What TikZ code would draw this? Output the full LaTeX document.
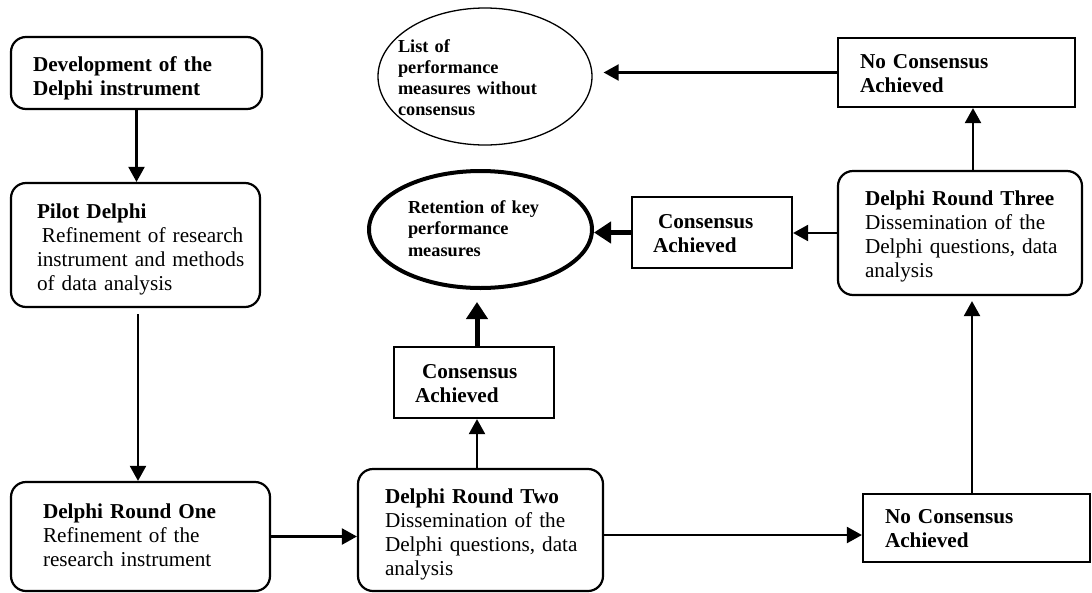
\documentclass[tikz,border=0pt]{standalone}
\usepackage{fontspec}
\setmainfont{Liberation Serif}
\usetikzlibrary{shapes.geometric,arrows.meta}

\begin{document}
\begin{tikzpicture}[x=1pt,y=-1pt,
  txt/.style={font=\fontsize{21.2}{24}\selectfont, align=left, inner ysep=0pt},
  rbox/.style={txt, draw, line width=2.2pt, rounded corners=15pt},
  sbox/.style={txt, draw, line width=2.2pt},
  oval/.style={ellipse, draw, inner sep=0pt, align=left, font=\fontsize{18.3}{21}\selectfont\bfseries},
  link/.style={line width=2.2pt, -{Triangle[length=15pt,width=16pt]}},
  boldlink/.style={line width=5pt, -{Triangle[length=17pt,width=21pt]}},
  textbox/.style 2 args={text height=#1, text depth=#2},
]
\fill[white] (0,0) rectangle (1092,592);
\useasboundingbox (0,0) rectangle (1092,592);

% process stages
\node[rbox, inner xsep=22pt, text width=207pt, minimum height=72pt, textbox={19.5pt}{23.5pt}] (dev) at (136.5,73)
  {\textbf{Development of the}\\\textbf{Delphi instrument}};
\node[rbox, inner xsep=26pt, text width=197pt, minimum height=124pt, textbox={18.5pt}{72.5pt}] (pilot) at (135.5,245)
  {\textbf{Pilot Delphi}\\\mbox{\hspace*{5pt}Refinement of research}\\\mbox{instrument and methods}\\of data analysis};
\node[rbox, inner xsep=32pt, text width=195pt, minimum height=109pt, textbox={12.75pt}{49.75pt}] (r1) at (140.5,536.5)
  {\mbox{\textbf{Delphi Round One}}\\Refinement of the\\research instrument};
\node[rbox, inner xsep=27pt, text width=191pt, minimum height=122pt, textbox={18.5pt}{72.5pt}] (r2) at (480.5,530)
  {\mbox{\textbf{Delphi Round Two}}\\Dissemination of the\\\mbox{Delphi questions, data}\\analysis};
\node[rbox, inner xsep=27pt, text width=190pt, minimum height=124pt, textbox={17.5pt}{73.5pt}] (r3) at (960,233)
  {\mbox{\textbf{Delphi Round Three}}\\Dissemination of the\\\mbox{Delphi questions, data}\\analysis};

% outcomes
\node[sbox, inner xsep=22pt, text width=183pt, minimum height=68pt, textbox={14.25pt}{24.25pt}] (ncbot) at (976.5,528)
  {\textbf{No Consensus}\\\textbf{Achieved}};
\node[sbox, inner xsep=22pt, text width=193pt, minimum height=69pt, textbox={14.75pt}{23.75pt}] (nctop) at (956.5,72.5)
  {\textbf{No Consensus}\\\textbf{Achieved}};
\node[sbox, inner xsep=21pt, text width=118pt, minimum height=71pt, textbox={14.75pt}{23.75pt}] (cam) at (474,382.5)
  {\textbf{\hspace*{7pt}Consensus}\\\textbf{Achieved}};
\node[sbox, inner xsep=21pt, text width=118pt, minimum height=71pt, textbox={14.75pt}{23.75pt}] (car) at (712,232.5)
  {\textbf{\hspace*{5pt}Consensus}\\\textbf{Achieved}};

% final lists
\node[oval, line width=1.3pt, minimum width=214pt, minimum height=137pt, text width=140pt,
      textbox={13.25pt}{62.25pt}] (list) at (485,76.5)
  {\leftskip=-17pt\relax List of\\performance\\measures without\\consensus\par};
\node[oval, line width=4pt, minimum width=223pt, minimum height=117pt, text width=130pt,
      textbox={11.25pt}{44.25pt}, font=\fontsize{18.3}{21.5}\selectfont\bfseries] (ret) at (480.5,229.5)
  {\leftskip=-7.5pt\relax Retention of key\\performance\\measures\par};

% connectors
\draw[link] (dev.south) -- (dev.south |- pilot.north);
\draw[link, shorten <=6pt] ([xshift=2.5pt]pilot.south) -- ([xshift=2.5pt]pilot.south |- r1.north);
\draw[link] (r1.east) -- (r1.east -| r2.west);
\draw[link] ([yshift=-5pt]r2.east) -- ([yshift=-5pt]r2.east -| ncbot.west);
\draw[link, shorten >=5pt] ([xshift=-4.5pt]ncbot.north) -- ([xshift=-4.5pt]ncbot.north |- r3.south);
\draw[link] ([xshift=13pt]r3.north) -- ([xshift=13pt]r3.north |- nctop.south);
\draw[link, shorten >=11pt] (nctop.west) -- (nctop.west -| list.east);
\draw[link] (r3.west) -- (r3.west -| car.east);
\draw[boldlink] (car.west) -- (car.west -| ret.east);
\draw[link] ([xshift=3pt]cam.south |- r2.north) -- ([xshift=3pt]cam.south);
\draw[boldlink, shorten >=12pt] ([xshift=3pt]cam.north) -- ([xshift=3pt]cam.north |- ret.south);
\end{tikzpicture}
\end{document}
